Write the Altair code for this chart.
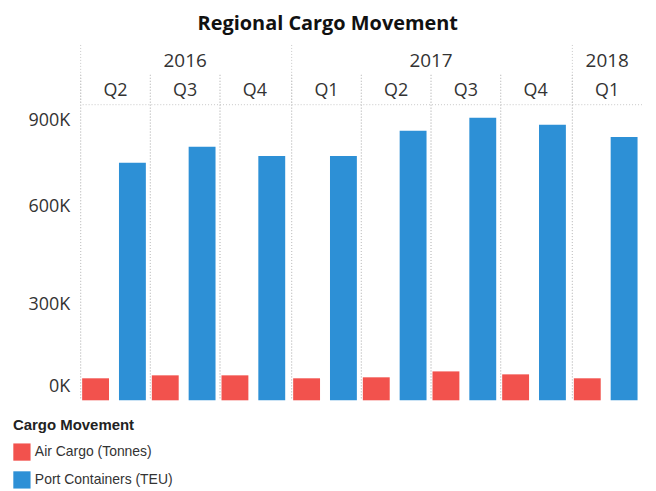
import altair as alt
import pandas as pd

years = ["2016", "2016", "2016", "2017", "2017", "2017", "2017", "2018"]
quarters = ["Q2", "Q3", "Q4", "Q1", "Q2", "Q3", "Q4", "Q1"]
air_cargo = [67000, 76000, 76000, 67000, 70000, 88000, 79000, 67000]
port_containers = [723000, 772000, 744000, 744000, 821000, 860000, 839000, 802000]
series = ["Air Cargo (Tonnes)", "Port Containers (TEU)"]
colors = ["#f2524d", "#2d90d6"]

rows = []
for y, q, a, p in zip(years, quarters, air_cargo, port_containers):
    rows.append({"Year": y, "Quarter": q, "Series": series[0], "Value": a})
    rows.append({"Year": y, "Quarter": q, "Series": series[1], "Value": p})
df = pd.DataFrame(rows)

H = 297
GRID = "#c8c8c8"

base = alt.Chart()

x_axis = alt.Axis(
    orient="top", title=None, ticks=False, domain=False, labelAngle=0,
    labelFontSize=18, labelFont="Open Sans", labelColor="#333333",
    labelPadding=5, grid=False, bandPosition=0.5,
)
x_scale = alt.Scale(paddingInner=0, paddingOuter=0)
x_enc = alt.X("Quarter:N", scale=x_scale, axis=x_axis)
y_enc = alt.Y(
    "Value:Q",
    scale=alt.Scale(domain=[0, 900000], nice=False),
    axis=alt.Axis(
        title=None, values=[0, 300000, 600000, 900000],
        labelExpr="datum.value / 1000 + 'K'", grid=False, domain=False,
        ticks=False, labelFontSize=18, labelFont="Open Sans",
        labelColor="#333333", labelFlush=False, labelBaseline="middle",
        labelOffset={
            "condition": [
                {"test": "datum.value == 0", "value": -14},
                {"test": "datum.value == 900000", "value": 16},
            ],
            "value": 3,
        },
        labelPadding=10, minExtent=63,
    ),
)
color_enc = alt.Color(
    "Series:N",
    scale=alt.Scale(domain=series, range=colors),
    legend=alt.Legend(
        title="Cargo Movement", orient="none", legendX=-68, legendY=H + 18,
        direction="vertical",
        titleFont="Liberation Sans", titleFontSize=15, titleFontWeight="bold",
        titleColor="#222222", labelFont="Liberation Sans", labelFontSize=14,
        labelColor="#333333", symbolType="square", symbolSize=300,
        symbolStrokeWidth=0, rowPadding=10, titlePadding=10,
    ),
)

air_bars = base.transform_filter(alt.datum.Series == series[0]).mark_bar(
    width=27, xOffset=-20
).encode(x=x_enc, y=y_enc, color=color_enc)

port_bars = base.transform_filter(alt.datum.Series == series[1]).mark_bar(
    width=27, xOffset=17
).encode(x=x_enc, y=y_enc, color=color_enc)

qrules = base.mark_rule(strokeDash=[1, 2], color=GRID, strokeWidth=1).encode(
    x=alt.X("Quarter:N", bandPosition=0, scale=x_scale, axis=x_axis),
    y=alt.value(-30),
    y2=alt.value(H),
)

yrules = base.transform_aggregate(n="count()").mark_rule(
    strokeDash=[1, 2], color=GRID, strokeWidth=1
).encode(x=alt.value(0), y=alt.value(-60), y2=alt.value(0))

toprule = base.transform_aggregate(n="count()").mark_rule(
    strokeDash=[1, 2], color=GRID, strokeWidth=1
).encode(y=alt.value(0))

layered = alt.layer(air_bars, port_bars, qrules, yrules, toprule).properties(
    width=alt.Step(70), height=H
)

chart = (
    layered.facet(
        data=df,
        column=alt.Column(
            "Year:N",
            header=alt.Header(
                title=None, labelFontSize=19, labelFont="Open Sans",
                labelColor="#333333", labelPadding=-27,
            ),
        ),
        spacing=0,
    )
    .resolve_scale(x="independent")
    .properties(
        title=alt.TitleParams(
            "Regional Cargo Movement", fontSize=20, font="Open Sans",
            fontWeight="bold", color="#111111", anchor="middle", offset=10,
        )
    )
    .configure_view(stroke=None)
)

chart.save("out.html", embed_options={"renderer": "svg", "actions": False})
